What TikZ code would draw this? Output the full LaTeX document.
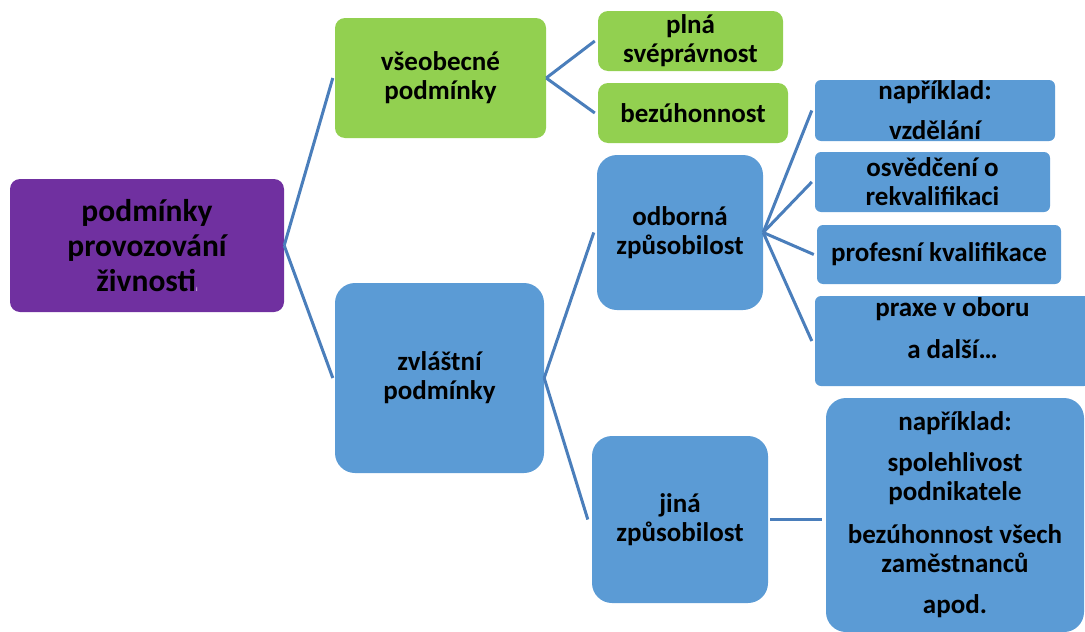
\documentclass[tikz,border=0pt]{standalone}
\usepackage{fontspec}
\setmainfont{Carlito}
\definecolor{rootpurple}{RGB}{112, 48, 160}
\definecolor{gengreen}{RGB}{146, 208, 80}
\definecolor{specblue}{RGB}{91, 155, 213}
\definecolor{linkblue}{RGB}{74, 126, 187}
\usetikzlibrary{positioning, calc}
\tikzset{
  cell/.style={inner sep=0pt, align=center, font=\bfseries\fontsize{27}{29}\selectfont},
  rootcell/.style={cell, fill=rootpurple, rounded corners=10pt, font=\bfseries\fontsize{31.5}{35}\selectfont},
  greencell/.style={cell, fill=gengreen, rounded corners=10pt},
  bluecell/.style={cell, fill=specblue, rounded corners=20pt},
  leafcell/.style={cell, fill=specblue, rounded corners=6pt},
  link/.style={draw=linkblue, line width=3pt}
}

\begin{document}
\begin{tikzpicture}[x=1pt, y=-1pt]
  \useasboundingbox (0, 0) rectangle (1085, 632);

  % Root
  \node[rootcell, minimum width=274, minimum height=133] (root) at (147, 245.5)
    {podmínky\\provozování\\živnosti{\fontsize{6}{6}\selectfont\color{white!80!rootpurple}i}};

  % General conditions
  \node[greencell, minimum width=211, minimum height=120] (vseob) at (440.5, 78)
    {všeobecné\\podmínky};
  \node[greencell, minimum width=185, minimum height=60] (plna) at (690.5, 41)
    {plná\\svéprávnost};
  \node[greencell, minimum width=190, minimum height=60] (bezuh) at (693, 113)
    {bezúhonnost};

  % Special conditions
  \node[bluecell, minimum width=209, minimum height=190] (zvlast) at (439.5, 378)
    {zvláštní\\podmínky};
  \node[bluecell, minimum width=166, minimum height=155] (odborna) at (680, 232.5)
    {odborná\\způsobilost};
  \node[bluecell, minimum width=176, minimum height=167] (jina) at (680, 519.5)
    {jiná\\způsobilost};

  % Professional competence
  \node[leafcell, minimum width=240, minimum height=61] (vzdelani) at (935, 110.5)
    {například:\\[11pt]vzdělání};
  \node[leafcell, minimum width=235, minimum height=60] (rekval) at (932.5, 182)
    {osvědčení o\\rekvalifikaci};
  \node[leafcell, minimum width=244, minimum height=59] (profesni) at (939, 254.5)
    {profesní kvalifikace};
  \node[leafcell, minimum width=275, minimum height=90] (praxe) at (952.5, 341)
    {praxe v oboru\\[13pt]a další…\\[-3pt]\mbox{}};

  % Other competence
  \node[bluecell, minimum width=258, minimum height=234] (priklady) at (955, 515)
    {například:\\[12pt]spolehlivost\\podnikatele\\[14pt]bezúhonnost všech\\zaměstnanců\\[12pt]apod.};

  % Connectors
  \draw[link] (root.east) -- ([xshift=-2pt]vseob.west);
  \draw[link] (root.east) -- ([xshift=-2pt]zvlast.west);
  \draw[link] (vseob.east) -- ([xshift=-3pt]plna.west);
  \draw[link] (vseob.east) -- ([xshift=-3pt]bezuh.west);
  \draw[link] (zvlast.east) -- ([xshift=-3pt]odborna.west);
  \draw[link] (zvlast.east) -- ([xshift=-4pt]jina.west);
  \foreach \leaf in {vzdelani, rekval, profesni, praxe}
    \draw[link] (odborna.east) -- ([xshift=-3pt]\leaf.west);
  \draw[link] ([xshift=2pt]jina.east) -- ([xshift=-4pt]jina.east -| priklady.west);
\end{tikzpicture}
\end{document}
